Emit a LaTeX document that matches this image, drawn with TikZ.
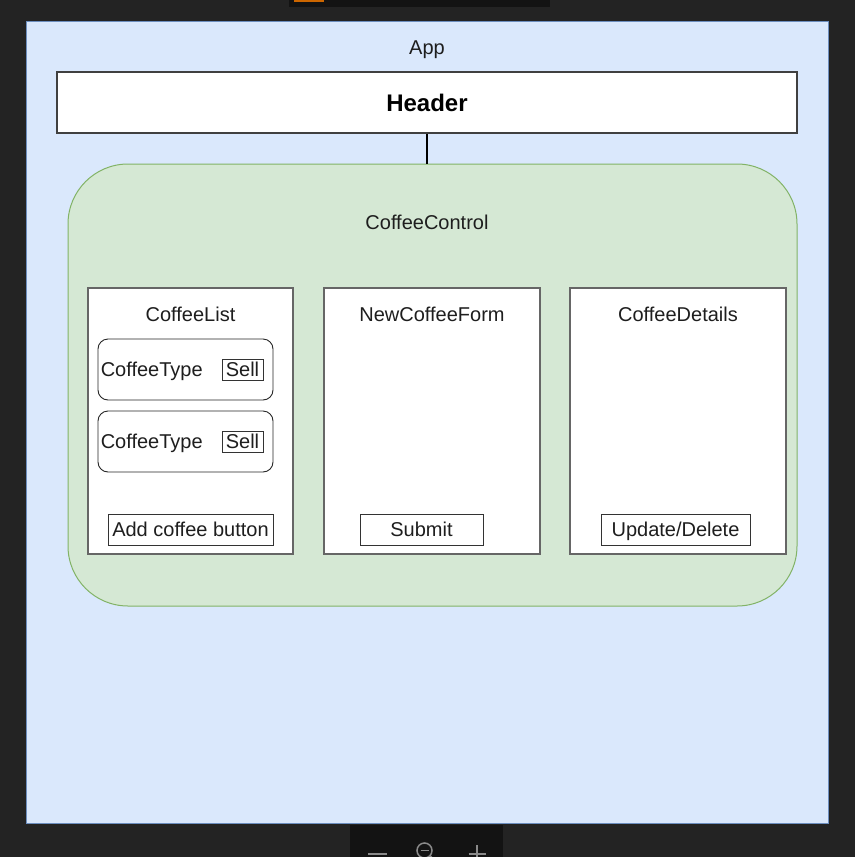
\documentclass[tikz,border=0pt]{standalone}
\usepackage{fontspec}
\setmainfont{Liberation Sans}
\usetikzlibrary{calc}
\definecolor{screen}{HTML}{232323}
\definecolor{toolbar}{HTML}{131313}
\definecolor{uigray}{HTML}{8A8A8A}
\definecolor{appfill}{HTML}{DAE8FC}
\definecolor{appline}{HTML}{6C8EBF}
\definecolor{ctrlfill}{HTML}{D5E8D4}
\definecolor{ctrlline}{HTML}{82B366}
\definecolor{panelline}{HTML}{666666}
\definecolor{labelgray}{HTML}{1E1E1E}
\tikzset{
	txt/.style={font=\fontsize{20}{24}\selectfont, text=labelgray, inner sep=0pt, text height=14.5pt, text depth=0pt},
	panel/.style={draw=panelline, fill=white, line width=1.3pt, inner sep=0pt, minimum height=266pt},
	btn/.style={txt, draw=black!80, fill=white, line width=0.9pt, minimum height=31pt},
	typebox/.style={draw=black!85, fill=white, line width=0.9pt, rounded corners=10pt, inner sep=0pt, minimum width=175pt, minimum height=61pt}
}
\newcommand{\coffeetype}[2] % node name, y of centre in px
{
	% rounded row
	\node[typebox] (#1) at (185.5,#2) {};
	% item text
	\node[txt, anchor=west] (#1text) at ($(#1.west)+(3,0)$) {CoffeeType};
	% sell button
	\node[btn, minimum width=41pt, minimum height=21pt] (#1sell) at (242.5,#2) {Sell};
}

\begin{document}
\begin{tikzpicture}[x=1pt, y=-1pt]
	% screen: 855px x 857px, 1px = 1pt
	\useasboundingbox (0,0) rectangle (855,857);
	\fill[screen] (0,0) rectangle (855,857);
	\fill[toolbar] (289,0) rectangle (550,7);
	\fill[orange!80!black] (294,0) rectangle (324,2);
	% zoom toolbar
	\fill[toolbar] (350,825) rectangle (503,857);
	\begin{scope}
	\clip (350,825) rectangle (503,857);
	\draw[uigray, line width=1.8pt] (368,854) -- (387,854);
	\draw[uigray, line width=1.5pt] (424.5,850.5) circle (7.5);
	\draw[uigray, line width=1.5pt] (420.5,850.5) -- (428.5,850.5);
	\draw[uigray, line width=1.8pt] (430,856) -- (434,860);
	\draw[uigray, line width=1.8pt] (477,845) -- (477,862);
	\draw[uigray, line width=1.8pt] (468.5,854) -- (486,854);
	\end{scope}

	% App
	\node[draw=appline, fill=appfill, line width=1pt, inner sep=0pt, minimum width=802pt, minimum height=802pt] (app) at (427,422) {};
	\node[txt] (applabel) at (427,47) {App};
	% Header
	\node[draw=black!75, fill=white, line width=1.2pt, inner sep=0pt, minimum width=740pt, minimum height=61pt, font=\bfseries\fontsize{24}{28}\selectfont] (header) at (427,102.5) {Header};
	% CoffeeControl
	\node[draw=ctrlline, fill=ctrlfill, line width=1pt, rounded corners=60pt, inner sep=0pt, minimum width=729pt, minimum height=442pt] (control) at (432.5,385) {};
	\node[txt] (controllabel) at (427,222) {CoffeeControl};
	\draw[line width=1.2pt] (header.south) -- (header.south |- control.north);

	% CoffeeList
	\node[panel, minimum width=205pt] (list) at (190.5,421) {};
	\node[txt] (listlabel) at (190.5,314) {CoffeeList};
	\coffeetype{typeone}{369.5}
	\coffeetype{typetwo}{441.5}
	\node[btn, minimum width=165pt] (addbtn) at (190.5,529.5) {Add coffee button};
	% NewCoffeeForm
	\node[panel, minimum width=216pt] (form) at (432,421) {};
	\node[txt] (formlabel) at (432,314) {NewCoffeeForm};
	\node[btn, minimum width=123pt] (submitbtn) at (421.5,529.5) {Submit};
	% CoffeeDetails
	\node[panel, minimum width=216pt] (details) at (678,421) {};
	\node[txt] (detailslabel) at (678,314) {CoffeeDetails};
	\node[btn, minimum width=149pt] (updatebtn) at (675.5,529.5) {Update/Delete};
\end{tikzpicture}
\end{document}
